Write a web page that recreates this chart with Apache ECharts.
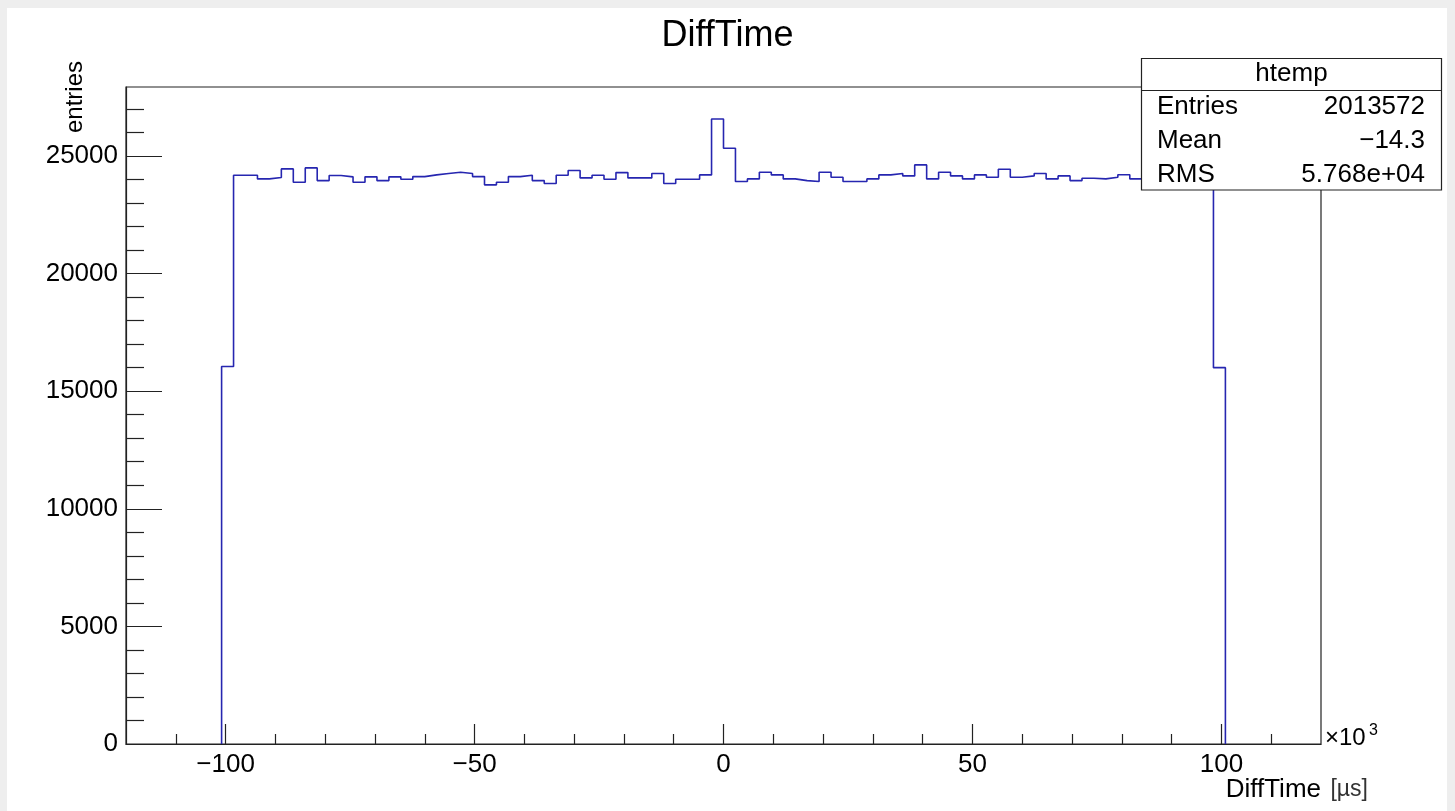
<!DOCTYPE html>
<html>
<head>
<meta charset="utf-8">
<script src="https://cdn.jsdelivr.net/npm/echarts@6/dist/echarts.min.js"></script>
<style>
  html, body { margin: 0; padding: 0; background: #eeeeee; }
  #paper { position: absolute; left: 7px; top: 8px; width: 1440px; height: 803px; background: #ffffff; }
  #chart { position: absolute; left: 0; top: 0; width: 1455px; height: 811px; }
</style>
</head>
<body>
<div id="paper"></div>
<div id="chart"></div>
<script>
// ---- data ----
const xMin = -120;          // axis range in units of 10^3 µs
const xMax = 120;
const nBins = 100;
const yMax = 27930;
const binValues = [
  0, 0, 0, 0, 0, 0, 0, 0,
  16050, 24180, 24180, 24024, 24080, 24448, 23880, 24490, 23950, 24165,
  24110, 23880, 24110, 23950, 24110, 24010, 24120, 24194, 24250, 24305,
  24250, 24120, 23770, 23880, 24120, 24180, 23950, 23825, 24180, 24380,
  24066, 24180, 24010, 24290, 24066, 24066, 24250, 23825, 24010, 24010,
  24194, 26570, 25325, 23910, 24024, 24305, 24194, 24024, 23950, 23910,
  24305, 24095, 23910, 23910, 24024, 24194, 24250, 24150, 24618, 24024,
  24305, 24150, 24024, 24194, 24095, 24435, 24095, 24150, 24250, 24024,
  24150, 23950, 24050, 24024, 24095, 24200, 24024, 24100, 24000, 24150,
  24050, 24100, 24000, 16000,
  0, 0, 0, 0, 0, 0, 0, 0
];
const xMajorTicks = [-100, -50, 0, 50, 100];
const yMajorTicks = [0, 5000, 10000, 15000, 20000, 25000];
const statsRows = [["Entries", "2013572"], ["Mean", "\u221214.3"], ["RMS", "5.768e+04"]];
const histName = "htemp";

// ---- build histogram outline (bin corners) ----
const binW = (xMax - xMin) / nBins;
let first = binValues.findIndex(v => v > 0);
let last = binValues.length - 1 - binValues.slice().reverse().findIndex(v => v > 0);
const outline = [[xMin + first * binW, 0]];
for (let k = first; k <= last; k++) {
  outline.push([xMin + k * binW, binValues[k]]);
  outline.push([xMin + (k + 1) * binW, binValues[k]]);
}
outline.push([xMin + (last + 1) * binW, 0]);

const xMinorTicks = [];
for (let v = xMin + 10; v < xMax; v += 10) if (!xMajorTicks.includes(v)) xMinorTicks.push(v);
const yMinorTicks = [];
for (let v = 1000; v < yMax; v += 1000) if (!yMajorTicks.includes(v)) yMinorTicks.push(v);

const FONT = "'Liberation Sans', Arial, Helvetica, sans-serif";
const axisColor = '#222222';

const chart = echarts.init(document.getElementById('chart'), null, { renderer: 'canvas' });

// stats box geometry
const bx = 1141.5, by = 58.5, bw = 300, bh = 131.5;
const graphics = [
  { type: 'rect', z: 100, shape: { x: bx, y: by, width: bw, height: bh },
    style: { fill: '#ffffff', stroke: '#222222', lineWidth: 1.2 } },
  { type: 'line', z: 101, shape: { x1: bx, y1: 90.5, x2: bx + bw, y2: 90.5 },
    style: { stroke: '#222222', lineWidth: 1.2 } },
  { type: 'text', z: 102, x: bx + bw / 2, y: 74,
    style: { text: histName, font: '26px ' + FONT, fill: '#000', textAlign: 'center', textVerticalAlign: 'middle' } },
  // axis titles and multiplier
  { type: 'text', z: 102, x: 1321, y: 790,
    style: { text: 'DiffTime', font: '26px ' + FONT, fill: '#000', textAlign: 'right', textVerticalAlign: 'middle' } },
  { type: 'text', z: 102, x: 1368, y: 790,
    style: { text: '[\u00b5s]', font: '23px ' + FONT, fill: '#333', textAlign: 'right', textVerticalAlign: 'middle' } },
  { type: 'text', z: 102, x: 1325, y: 738,
    style: { text: '\u00d710', font: '24px ' + FONT, fill: '#000', textAlign: 'left', textVerticalAlign: 'middle' } },
  { type: 'text', z: 102, x: 1369, y: 731,
    style: { text: '3', font: '16px ' + FONT, fill: '#000', textAlign: 'left', textVerticalAlign: 'middle' } },
  { type: 'text', z: 102, x: 75, y: 97, rotation: Math.PI / 2,
    style: { text: 'entries', font: '24px ' + FONT, fill: '#000', textAlign: 'center', textVerticalAlign: 'middle' } }
];
statsRows.forEach((r, i) => {
  const cy = 107 + i * 34;
  graphics.push({ type: 'text', z: 102, x: 1157, y: cy,
    style: { text: r[0], font: '26px ' + FONT, fill: '#000', textAlign: 'left', textVerticalAlign: 'middle' } });
  graphics.push({ type: 'text', z: 102, x: 1425, y: cy,
    style: { text: r[1], font: '26px ' + FONT, fill: '#000', textAlign: 'right', textVerticalAlign: 'middle' } });
});

const option = {
  animation: false,
  backgroundColor: 'transparent',
  title: {
    text: 'DiffTime', left: 'center', top: 13,
    textStyle: { fontFamily: FONT, fontSize: 36, fontWeight: 'normal', color: '#000' }
  },
  grid: {
    left: 126, right: 134, top: 87, bottom: 67,
    show: true, borderColor: axisColor, borderWidth: 1.2, backgroundColor: 'transparent'
  },
  xAxis: [
    {
      type: 'value', min: xMin, max: xMax, position: 'bottom',
      axisLine: { show: true, onZero: false, lineStyle: { color: axisColor, width: 1.2 } },
      splitLine: { show: false },
      axisTick: { show: true, inside: true, length: 20, customValues: xMajorTicks, lineStyle: { color: axisColor, width: 1.2 } },
      axisLabel: {
        show: true, customValues: xMajorTicks, margin: 8,
        fontFamily: FONT, fontSize: 26, color: '#000',
        formatter: v => (v < 0 ? '\u2212' + Math.abs(v) : String(v))
      }
    },
    {
      type: 'value', min: xMin, max: xMax, position: 'bottom',
      axisLine: { show: false, onZero: false },
      splitLine: { show: false },
      axisTick: { show: true, inside: true, length: 10, customValues: xMinorTicks, lineStyle: { color: axisColor, width: 1.2 } },
      axisLabel: { show: false }
    }
  ],
  yAxis: [
    {
      type: 'value', min: 0, max: yMax, position: 'left',
      axisLine: { show: true, onZero: false, lineStyle: { color: axisColor, width: 1.2 } },
      splitLine: { show: false },
      axisTick: { show: true, inside: true, length: 36, customValues: yMajorTicks, lineStyle: { color: axisColor, width: 1.2 } },
      axisLabel: {
        show: true, customValues: yMajorTicks, margin: 8,
        fontFamily: FONT, fontSize: 26, color: '#000',
        formatter: v => String(v)
      }
    },
    {
      type: 'value', min: 0, max: yMax, position: 'left',
      axisLine: { show: false, onZero: false },
      splitLine: { show: false },
      axisTick: { show: true, inside: true, length: 18, customValues: yMinorTicks, lineStyle: { color: axisColor, width: 1.2 } },
      axisLabel: { show: false }
    }
  ],
  series: [
    {
      type: 'line', xAxisIndex: 0, yAxisIndex: 0,
      data: outline, showSymbol: false, symbol: 'none',
      lineStyle: { color: '#2626b0', width: 1.6 },
      z: 5
    }
  ],
  graphic: graphics
};
chart.setOption(option);
</script>
</body>
</html>
